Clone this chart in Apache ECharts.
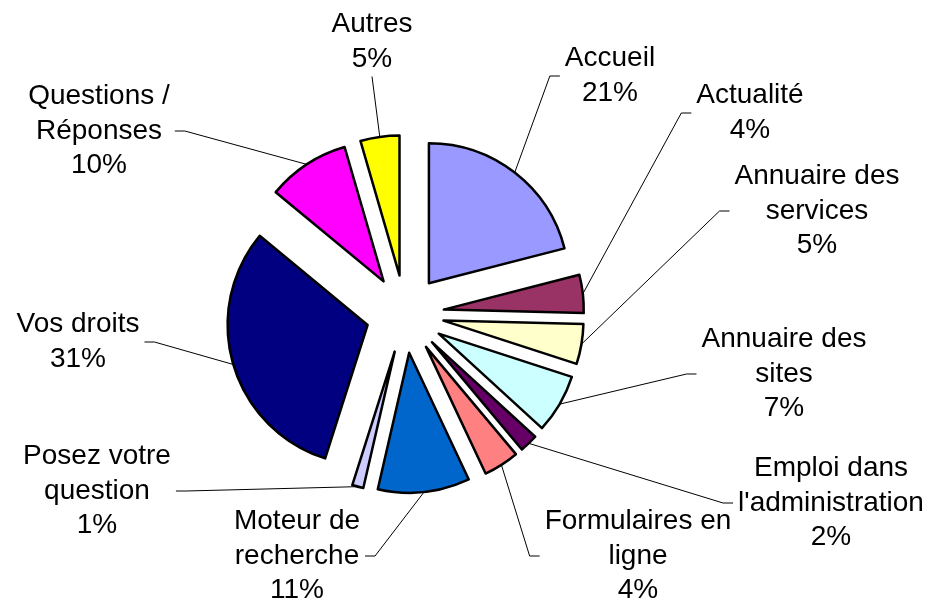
<!DOCTYPE html>
<html>
<head>
<meta charset="utf-8">
<script src="https://cdn.jsdelivr.net/npm/echarts@6/dist/echarts.min.js"></script>
<style>
  html, body { margin: 0; padding: 0; background: #fff; }
  #chart { width: 930px; height: 602px; }
</style>
</head>
<body>
<div id="chart"></div>
<script>
// parts, clockwise from 12 o'clock
const categories = [
  'Accueil', 'Actualité', 'Annuaire des\nservices', 'Annuaire des\nsites',
  'Emploi dans\nl\'administration', 'Formulaires en\nligne', 'Moteur de\nrecherche',
  'Posez votre\nquestion', 'Vos droits', 'Questions /\nRéponses', 'Autres'
];
const values = [21.0, 4.4, 4.6, 6.8, 2.1, 4.1, 10.6, 1.3, 31.1, 9.5, 4.5];
const colors = [
  '#9999FF', '#993366', '#FFFFCC', '#CCFFFF', '#660066', '#FF8080',
  '#0066CC', '#CCCCFF', '#000080', '#FF00FF', '#FFFF00'
];

// where each label sits (centre of text block) and which side the leader line meets
const labelCenters = [
  [610, 76], [750, 113], [817, 211], [784, 374], [831, 503], [638, 556],
  [297, 556], [97, 491], [78, 342], [99, 131], [372, 42]
];
const labelSides = ['left', 'left', 'left', 'left', 'left', 'left', 'right', 'right', 'right', 'right', 'bottom'];

const pieCenter = [405, 314];
const pieRadius = 140;
const explode = 39;

const chart = echarts.init(document.getElementById('chart'));

chart.setOption({
  animation: false,
  backgroundColor: '#fff',
  series: [{
    // exploded slices
    type: 'pie',
    center: pieCenter,
    radius: pieRadius,
    startAngle: 90,
    clockwise: true,
    selectedMode: 'multiple',
    selectedOffset: explode,
    emphasis: { disabled: true },
    itemStyle: { borderColor: '#000', borderWidth: 2.5 },
    label: { show: false },
    labelLine: { show: false },
    data: categories.map((name, i) => ({
      name: name,
      value: values[i],
      selected: true,
      itemStyle: { color: colors[i] }
    }))
  }, {
    // invisible twin whose rim sits on the exploded arcs, only carries the labels
    type: 'pie',
    center: pieCenter,
    radius: pieRadius + explode,
    startAngle: 90,
    clockwise: true,
    silent: true,
    selectedMode: false,
    avoidLabelOverlap: false,
    emphasis: { disabled: true },
    itemStyle: { color: 'rgba(0,0,0,0)', borderWidth: 0 },
    label: {
      show: true,
      position: 'outside',
      color: '#000',
      fontFamily: 'Liberation Sans, Arial, sans-serif',
      fontSize: 28,
      lineHeight: 34.5,
      align: 'center',
      padding: [0, 5],
      formatter: p => p.name + '\n' + Math.round(p.value) + '%'
    },
    labelLine: { show: true, lineStyle: { color: '#000', width: 1 } },
    labelLayout: function (params) {
      const i = params.dataIndex;
      const c = labelCenters[i];
      const w = params.labelRect.width, h = params.labelRect.height;
      let end, turn;
      if (labelSides[i] === 'left') { end = [c[0] - w / 2, c[1]]; turn = [end[0] - 10, c[1]]; }
      else if (labelSides[i] === 'right') { end = [c[0] + w / 2, c[1]]; turn = [end[0] + 10, c[1]]; }
      else { end = [c[0], c[1] + h / 2]; turn = end; }
      const start = params.labelLinePoints ? params.labelLinePoints[0] : turn;
      return {
        x: c[0], y: c[1], align: 'center', verticalAlign: 'middle',
        labelLinePoints: [start, turn, end]
      };
    },
    data: categories.map((name, i) => ({ name: name, value: values[i] }))
  }]
});
</script>
</body>
</html>
